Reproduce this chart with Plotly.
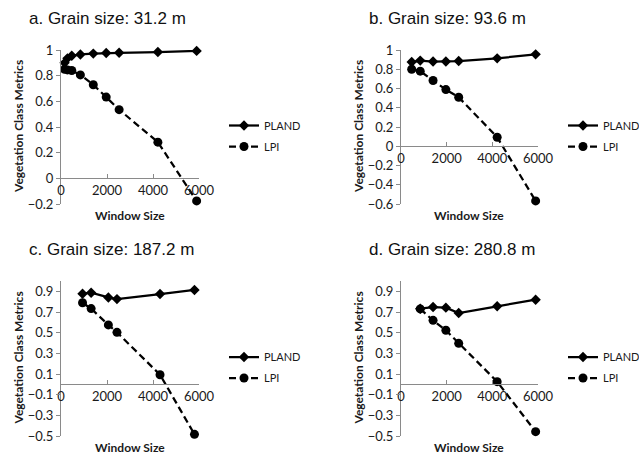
import plotly.graph_objects as go

W, H = 639, 454

# Window sizes (m) and class metrics for each grain size
a_window = [156, 280.8, 468, 842.4, 1404, 1965.6, 2527.2, 4212, 5896.8]
a_pland = [0.90, 0.935, 0.955, 0.965, 0.972, 0.977, 0.978, 0.984, 0.993]
a_lpi = [0.85, 0.845, 0.84, 0.806, 0.729, 0.633, 0.535, 0.282, -0.176]

b_window = [468, 842.4, 1404, 1965.6, 2527.2, 4212, 5896.8]
b_pland = [0.875, 0.89, 0.88, 0.88, 0.885, 0.913, 0.955]
b_lpi = [0.80, 0.78, 0.683, 0.589, 0.509, 0.094, -0.568]

c_window = [936, 1310.4, 2059.2, 2433.6, 4305.6, 5803.2]
c_pland = [0.877, 0.887, 0.841, 0.825, 0.874, 0.913]
c_lpi = [0.789, 0.733, 0.575, 0.503, 0.093, -0.484]

d_window = [842.4, 1404, 1965.6, 2527.2, 4212, 5896.8]
d_pland = [0.732, 0.748, 0.742, 0.69, 0.755, 0.819]
d_lpi = [0.73, 0.619, 0.523, 0.397, 0.026, -0.458]

titles = ["a. Grain size: 31.2 m", "b. Grain size: 93.6 m",
          "c. Grain size: 187.2 m", "d. Grain size: 280.8 m"]
x_ticks = [0, 2000, 4000, 6000]

panels = [
    dict(x=a_window, p=a_pland, l=a_lpi, yr=[-0.2, 1.0], t0=-0.2,
         px=(61, 199), py=(50, 204), title=titles[0]),
    dict(x=b_window, p=b_pland, l=b_lpi, yr=[-0.6, 1.0], t0=-0.6,
         px=(401, 538), py=(50, 204), title=titles[1]),
    dict(x=c_window, p=c_pland, l=c_lpi, yr=[-0.5, 1.0], t0=-0.5,
         px=(61, 199), py=(281, 436), title=titles[2]),
    dict(x=d_window, p=d_pland, l=d_lpi, yr=[-0.5, 1.0], t0=-0.5,
         px=(401, 538), py=(281, 436), title=titles[3]),
]

AXIS_GRAY = "#8a8a8a"
TEXT = "#1a1a1a"
FAMILY = "Lato, Carlito, Calibri, sans-serif"
TICK_FONT = dict(family=FAMILY, size=13, color=TEXT)
LABEL_FONT = dict(family=FAMILY, size=12, color=TEXT)
TITLE_FONT = dict(family="Liberation Sans, Arial, sans-serif", size=17, color="#111111")

fig = go.Figure()
layout = dict(
    width=W, height=H,
    margin=dict(l=0, r=0, t=0, b=0, autoexpand=False),
    paper_bgcolor="white", plot_bgcolor="white", showlegend=True,
    annotations=[],
)

for i, pn in enumerate(panels, start=1):
    sfx = "" if i == 1 else str(i)
    xa, ya = "x" + sfx, "y" + sfx
    leg = "legend" + sfx

    fig.add_trace(go.Scatter(
        x=pn["x"], y=pn["p"], name="PLAND", mode="lines+markers",
        line=dict(color="black", width=2.25),
        marker=dict(symbol="diamond", size=8, color="black"),
        xaxis=xa, yaxis=ya, legend=leg, legendgroup=f"p{i}",
        cliponaxis=False))
    fig.add_trace(go.Scatter(
        x=pn["x"], y=pn["l"], name="LPI", mode="lines+markers",
        line=dict(color="black", width=2.25, dash="7px,4px"),
        marker=dict(symbol="circle", size=9, color="black"),
        xaxis=xa, yaxis=ya, legend=leg, legendgroup=f"l{i}",
        cliponaxis=False))

    x0, x1 = pn["px"]
    yt, yb = pn["py"]
    dom_x = [x0 / W, x1 / W]
    dom_y = [1 - yb / H, 1 - yt / H]
    ymin, ymax = pn["yr"]
    # x axis line crosses at y = 0
    pos = dom_y[0] + (0 - ymin) / (ymax - ymin) * (dom_y[1] - dom_y[0])

    layout["xaxis" + sfx] = dict(
        domain=dom_x, range=[0, 6000], anchor="free", position=pos,
        tickvals=x_ticks, ticktext=[str(v) for v in x_ticks],
        showline=True, linecolor=AXIS_GRAY, linewidth=1,
        ticks="inside", ticklen=4, tickcolor=AXIS_GRAY,
        showgrid=False, zeroline=False, tickfont=TICK_FONT, fixedrange=True)
    layout["yaxis" + sfx] = dict(
        domain=dom_y, range=pn["yr"], anchor=xa,
        tick0=pn["t0"], dtick=0.2, tickformat="~g",
        showline=True, linecolor=AXIS_GRAY, linewidth=1,
        ticks="outside", ticklen=4, tickcolor=AXIS_GRAY,
        showgrid=False, zeroline=False, tickfont=TICK_FONT, fixedrange=True)

    cx = (x0 + x1) / 2
    cy = (yt + yb) / 2
    layout[leg] = dict(
        x=(x1 + 25) / W, y=1 - (cy - 16) / H, xanchor="left", yanchor="top",
        bgcolor="rgba(0,0,0,0)",
        font=dict(family=FAMILY, size=11, color=TEXT),
        traceorder="grouped", tracegroupgap=2, itemwidth=30)

    layout["annotations"] += [
        dict(text=pn["title"], x=(x0 - 34) / W, y=1 - (yt - 31) / H,
             xref="paper", yref="paper", xanchor="left", yanchor="middle",
             showarrow=False, font=TITLE_FONT),
        dict(text="<b>Window Size</b>", x=cx / W, y=1 - (yb + 11) / H,
             xref="paper", yref="paper", xanchor="center", yanchor="middle",
             showarrow=False, font=LABEL_FONT),
        dict(text="<b>Vegetation Class Metrics</b>", x=(x0 - 43) / W, y=1 - cy / H,
             xref="paper", yref="paper", xanchor="center", yanchor="middle",
             textangle=-90, showarrow=False, font=LABEL_FONT),
    ]

fig.update_layout(**layout)
fig.write_html("out.html")
